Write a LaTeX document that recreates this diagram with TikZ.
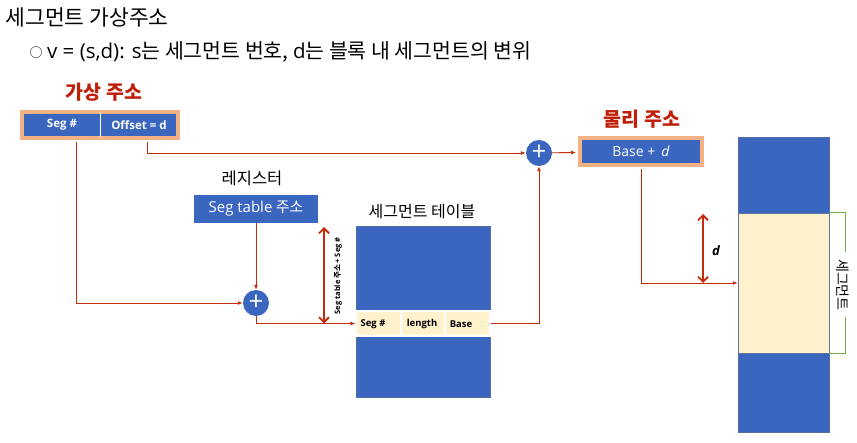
\documentclass[tikz,border=0pt]{standalone}
\usepackage{fontspec}
\setmainfont{Noto Sans CJK KR}
\newfontfamily\dfont{Open Sans}
\usepackage{xcolor}
\usepackage{tikz}
\usetikzlibrary{arrows.meta,positioning}
\definecolor{segblue}{HTML}{3A66C0}
\definecolor{addrorange}{HTML}{F4B183}
\definecolor{linered}{HTML}{C42B0A}
\definecolor{titlered}{HTML}{C0200A}
\definecolor{segcream}{HTML}{FFF2CC}
\definecolor{brgreen}{HTML}{70AD47}

\begin{document}
\begin{tikzpicture}[x=1pt, y=-1pt]
        \tikzset{bluebox/.style={fill=segblue, text=white, inner sep=0pt}}
        \tikzset{addrbox/.style={bluebox, draw=addrorange, line width=4pt}}
        \tikzset{adder/.style={circle, fill=segblue, text=white, inner sep=0pt, minimum size=26pt, font=\dfont\fontsize{26}{26}\selectfont}}
        \tikzset{conn/.style={draw=linered, line width=0.9pt, -{Latex[length=5pt,width=4pt]}}}
        \tikzset{dblarrow/.style={draw=linered, line width=1.8pt, {Straight Barb[length=5pt,width=10pt]}-{Straight Barb[length=5pt,width=10pt]}}}
        \tikzset{redtitle/.style={text=titlered, font=\bfseries\fontsize{19.5}{22}\selectfont}}
        \tikzset{celltext/.style={font=\dfont\bfseries\fontsize{9.5}{11}\selectfont}}
        \useasboundingbox (0,0) rectangle (857,443);

        % Heading
        \node [anchor=west, font=\fontsize{21.5}{24}\selectfont] (title) at (2,17) {세그먼트 가상주소};
        \node [anchor=west, font=\fontsize{20.5}{24}\selectfont] (sub) at (26,52) {\raisebox{1.5pt}{\fontsize{13}{13}\selectfont ○} {\dfont v = (s,d): s}는 세그먼트 번호, {\dfont d}는 블록 내 세그먼트의 변위};

        % Virtual address
        \node [redtitle] (vtitle) at (104,92) {가상 주소};
        \node [addrbox, minimum width=156, minimum height=26] (va) at (100,125) {};
        \draw [white, line width=0.8pt] ([yshift=-2pt]va.north) -- ([yshift=2pt]va.south);
        \node [text=white, font=\dfont\bfseries\fontsize{11.5}{13}\selectfont] (seg) at (62,125) {Seg \#};
        \node [text=white, font=\dfont\bfseries\fontsize{11.5}{13}\selectfont] (off) at (139,125) {Offset = d};

        % Register
        \node [font=\fontsize{16.5}{18}\selectfont] (regtitle) at (252,178) {레지스터};
        \node [bluebox, minimum width=124, minimum height=28, font=\fontsize{15}{17}\selectfont] (reg) at (256,209) {{\dfont Seg table} 주소};

        % Adders
        \node [adder] (add1) at (539,153) {+};
        \node [adder] (add2) at (256,303) {+};

        % Segment table
        \node [font=\fontsize{16}{18}\selectfont] (tabtitle) at (422,212) {세그먼트 테이블};
        \node [bluebox, draw=segblue!60!gray, line width=0.4pt, minimum width=134, minimum height=171] (tab) at (423,311.5) {};
        \node [fill=segcream, draw=white, line width=1.2pt, minimum width=134, minimum height=25] (row) at (423,323.5) {};
        \draw [white, line width=1.2pt] (401,312) -- (401,335);
        \draw [white, line width=1.2pt] (445,312) -- (445,335);
        \node [celltext] (rseg) at (373,324) {Seg \#};
        \node [celltext] (rlen) at (422,324) {length};
        \node [celltext] (rbase) at (461,324) {Base};

        % Physical address
        \node [redtitle] (ptitle) at (642,119) {물리 주소};
        \node [addrbox, minimum width=122, minimum height=27, font=\dfont\fontsize{14}{16}\selectfont] (pa) at (641,151.5) {Base +\, \textit{d}};

        % Memory
        \node [bluebox, draw=segblue!60!gray, line width=0.4pt, minimum width=91, minimum height=295] (mem) at (783.5,284.5) {};
        \node [fill=segcream, draw=segblue!50!gray, line width=0.4pt, inner sep=0pt, minimum width=91, minimum height=140] (mseg) at (783.5,283) {};

        % Connectors
        \draw [conn] ([xshift=47pt,yshift=-2pt]va.south) |- (add1);
        \draw [conn, shorten >=2pt] (add1) -- (pa);
        \draw [conn] ([xshift=-24pt,yshift=-2pt]va.south) |- (add2);
        \draw [conn] (reg) -- (add2);
        \draw [conn] (add2) |- (row.west);
        \draw [conn] (row.east) -| (add1);
        \draw [conn] ([yshift=-2pt]pa.south) |- (mseg.west);

        % Offsets
        \coordinate (tabtop) at (324,227);
        \draw [dblarrow] (tabtop) -- (tabtop |- row.west);
        \node [rotate=90, font=\bfseries\fontsize{7.5}{8}\selectfont] (tablabel) at (338,276) {{\dfont Seg table} 주소 {\dfont + Seg \#}};
        \coordinate (segtop) at (703,214);
        \draw [dblarrow] (segtop) -- (segtop |- mseg.west);
        \node [font=\dfont\bfseries\itshape\fontsize{13}{14}\selectfont] (dlabel) at (716,251) {d};

        % Segment bracket
        \draw [brgreen, line width=1.2pt] (mseg.north east) -- ++(16,0) -- ++(0,39);
        \draw [brgreen, line width=1.2pt] (mseg.south east) -- ++(16,0) -- ++(0,-36);
        \node [rotate=-90, font=\fontsize{14}{16}\selectfont] (seglabel) at (843,285) {세그먼트};
\end{tikzpicture}
\end{document}
